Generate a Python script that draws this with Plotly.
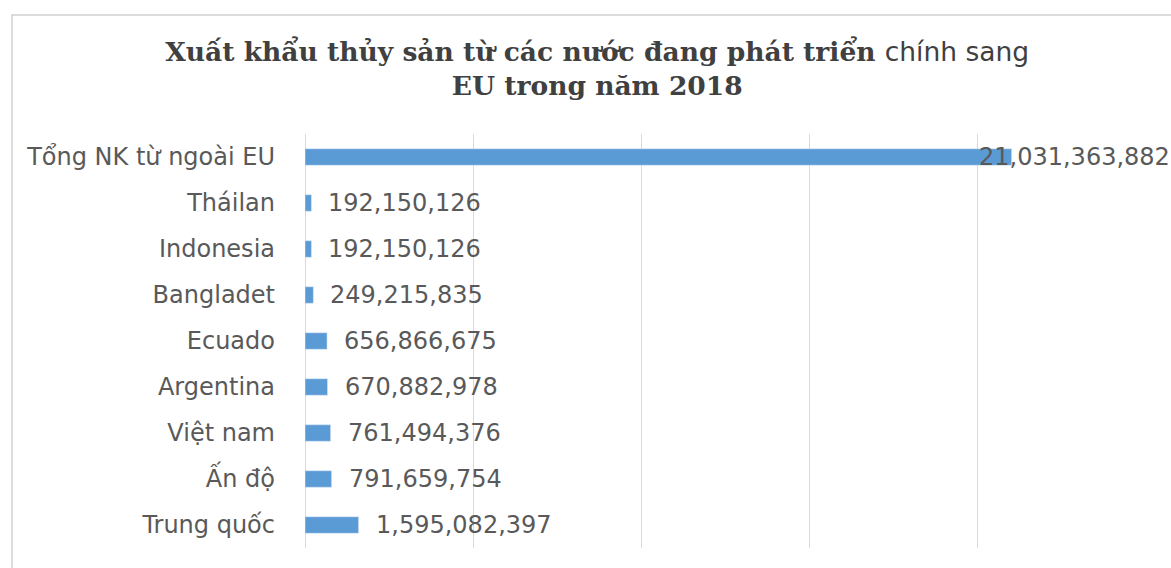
import plotly.graph_objects as go

# Categories top-to-bottom and their import values (EUR)
categories = ["Tổng NK từ ngoài EU", "Tháilan", "Indonesia", "Bangladet", "Ecuado",
              "Argentina", "Việt nam", "Ấn độ", "Trung quốc"]
values = [21031363882, 192150126, 192150126, 249215835, 656866675,
          670882978, 761494376, 791659754, 1595082397]

BAR_COLOR = "#5b9bd5"
TEXT_COLOR = "#595959"
GRID_COLOR = "#d9d9d9"
LABEL_FONT = "'DejaVu Sans', sans-serif"

fig = go.Figure(go.Bar(
    x=values,
    y=categories,
    orientation="h",
    marker=dict(color=BAR_COLOR),
    width=0.36,
    hoverinfo="skip",
))

# Value labels next to each bar end; the long total bar label is pulled back inside
for cat, v in zip(categories, values):
    shift = -35 if v > 2e10 else 15
    fig.add_annotation(
        x=v, y=cat, xref="x", yref="y",
        text=f"{v:,}", showarrow=False,
        xanchor="left", yanchor="middle", xshift=shift,
        font=dict(family=LABEL_FONT, size=24, color=TEXT_COLOR),
    )

# Chart frame border
fig.add_shape(type="rect", xref="paper", yref="paper",
              x0=-0.3488, y0=-0.2, x1=1.2, y1=1.2874,
              line=dict(color="#d0d0d0", width=1.5), fillcolor="rgba(0,0,0,0)", layer="below")

fig.update_layout(
    width=1171, height=568,
    margin=dict(l=305, r=26, t=134, b=20),
    paper_bgcolor="white", plot_bgcolor="white",
    showlegend=False,
    title=dict(
        text="Xuất khẩu thủy sản từ các nước đang phát triển "
             "<span style='font-family:DejaVu Sans, sans-serif;font-weight:normal'>chính sang</span>"
             "<br>EU trong năm 2018",
        x=0.51, xanchor="center", y=1 - 61 / 568, yanchor="top",
        font=dict(family="'DejaVu Serif', serif", size=26.5,
                  color="#404040", weight="bold"),
    ),
    xaxis=dict(
        range=[0, 25e9], dtick=5e9, tick0=0,
        showticklabels=False, showgrid=True, gridcolor=GRID_COLOR, gridwidth=1,
        zeroline=True, zerolinecolor=GRID_COLOR, zerolinewidth=1,
        showline=False, fixedrange=True,
    ),
    yaxis=dict(
        categoryorder="array", categoryarray=categories, autorange="reversed",
        showgrid=False, zeroline=False, showline=False,
        ticks="", ticklabelstandoff=29,
        tickfont=dict(family=LABEL_FONT, size=24, color=TEXT_COLOR),
        fixedrange=True,
    ),
)

fig.write_html("out.html")
